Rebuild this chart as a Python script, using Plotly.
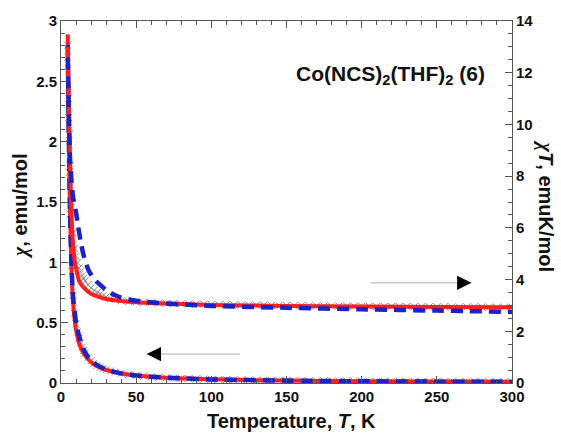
import plotly.graph_objects as go

# ---- measured data: chi*T (emu K/mol) and chi (emu/mol) vs temperature (K)
T_exp = [4.5, 5, 5.5, 6, 7, 8, 9, 10, 11, 12, 13, 14, 15, 16, 18, 20, 22, 24, 26, 28, 30, 33, 36,
         40, 45, 50, 55, 60, 65, 70, 75, 80, 85, 90, 95, 100, 105, 110, 115, 120, 125, 130, 135,
         140, 145, 150, 155, 160, 165, 170, 175, 180, 185, 190, 195, 200, 205, 210, 215, 220, 225,
         230, 235, 240, 245, 250, 255, 260, 265, 270, 275, 280, 285, 290, 295, 300]
chiT_exp = [12.6, 11.0, 9.6, 8.4, 6.8, 5.8, 5.2, 4.9, 4.65, 4.45, 4.3, 4.15, 4.05, 3.95, 3.8, 3.68,
            3.58, 3.5, 3.44, 3.38, 3.33, 3.28, 3.23,
            3.18, 3.15, 3.13, 3.11, 3.10, 3.09, 3.08, 3.07, 3.06, 3.06, 3.05, 3.04, 3.04, 3.03, 3.03,
            3.02, 3.02, 3.01, 3.01, 3.01, 3.00, 3.00, 3.00, 2.99, 2.99, 2.99, 2.98, 2.98, 2.98, 2.98,
            2.97, 2.97, 2.97, 2.97, 2.96, 2.96, 2.96, 2.96, 2.96, 2.95, 2.95, 2.95, 2.95, 2.95, 2.94,
            2.94, 2.94, 2.94, 2.94, 2.93, 2.93, 2.93, 2.93]
chi_exp = [2.80, 2.20, 1.745, 1.40, 0.971, 0.725, 0.578, 0.49, 0.423, 0.371, 0.331, 0.296, 0.27,
           0.247, 0.211, 0.184, 0.163, 0.146, 0.132, 0.121, 0.111, 0.0994, 0.0897,
           0.0795, 0.070, 0.0626, 0.0565, 0.0517, 0.0475, 0.044, 0.0409, 0.0383, 0.036, 0.0339,
           0.032, 0.0304, 0.0289, 0.0275, 0.0263, 0.0252, 0.0241, 0.0232, 0.0223, 0.0214, 0.0207,
           0.020, 0.0193, 0.0187, 0.0181, 0.0175, 0.0170, 0.0166, 0.0161, 0.0156, 0.0152, 0.0149,
           0.0145, 0.0141, 0.0138, 0.0135, 0.0132, 0.0129, 0.0126, 0.0123, 0.0120, 0.0118, 0.0116,
           0.0113, 0.0111, 0.0109, 0.0107, 0.0105, 0.0103, 0.0101, 0.0099, 0.0098]

# ---- model 1 (solid red)
T_fit1 = [4.5, 5, 6, 7, 8, 9, 10, 12, 15, 20, 25, 30, 40, 50, 70, 100, 150, 200, 250, 300]
chiT_fit1 = [13.0, 11.2, 8.6, 6.5, 5.4, 4.8, 4.45, 3.95, 3.7, 3.45, 3.33, 3.25, 3.17, 3.12, 3.07,
             3.02, 2.98, 2.96, 2.94, 2.93]
chi_fit1 = [2.889, 2.24, 1.433, 0.929, 0.675, 0.533, 0.445, 0.329, 0.247, 0.1725, 0.1332, 0.1083,
            0.0793, 0.0624, 0.0439, 0.0302, 0.0199, 0.0148, 0.0118, 0.0098]

# ---- model 2 (dashed blue)
T_fit2 = [4.5, 5, 6, 7, 8, 10, 11, 13, 15, 18, 21, 25, 30, 35, 40, 50, 60, 80, 100, 150, 200, 250, 300]
chiT_fit2 = [12.6, 11.0, 8.7, 7.8, 7.2, 6.6, 6.2, 5.5, 4.95, 4.4, 4.1, 3.85, 3.6, 3.42, 3.3, 3.18,
             3.12, 3.04, 2.98, 2.91, 2.85, 2.8, 2.75]
chi_fit2 = [2.8, 2.2, 1.42, 0.98, 0.72, 0.5, 0.44, 0.35, 0.28, 0.215, 0.175, 0.142, 0.113, 0.094,
            0.08, 0.0625, 0.0515, 0.038, 0.0298, 0.0194, 0.01425, 0.0112, 0.0092]

GRAY = "#8a8a8a"
RED = "#ff1f1f"
BLUE = "#1c22c4"
FONT = "Liberation Sans, Arial, sans-serif"

fig = go.Figure()

# measured points
mk = dict(symbol="x-thin", size=7, line=dict(width=1, color=GRAY), color=GRAY)
fig.add_trace(go.Scatter(x=T_exp, y=chiT_exp, mode="markers", marker=mk, yaxis="y2"))
fig.add_trace(go.Scatter(x=T_exp, y=chi_exp, mode="markers", marker=mk))

# fits
fig.add_trace(go.Scatter(x=T_fit1, y=chiT_fit1, mode="lines", yaxis="y2",
                         line=dict(color=RED, width=4, shape="spline", smoothing=0.6)))
fig.add_trace(go.Scatter(x=T_fit1, y=chi_fit1, mode="lines",
                         line=dict(color=RED, width=4, shape="spline", smoothing=0.6)))
fig.add_trace(go.Scatter(x=T_fit2, y=chiT_fit2, mode="lines", yaxis="y2",
                         line=dict(color=BLUE, width=4.5, dash="12px,7px", shape="spline", smoothing=0.6)))
fig.add_trace(go.Scatter(x=T_fit2, y=chi_fit2, mode="lines",
                         line=dict(color=BLUE, width=4.5, dash="12px,7px", shape="spline", smoothing=0.6)))

tickfont = dict(family=FONT, size=15, color="#111", weight="bold")
axis_common = dict(showline=True, linecolor="#555", linewidth=1, ticks="inside",
                   tickcolor="#555", ticklen=7, tickwidth=1, showgrid=False, zeroline=False,
                   tickfont=tickfont)

fig.update_layout(
    width=561, height=433,
    margin=dict(l=61, r=49, t=21, b=50),
    paper_bgcolor="white", plot_bgcolor="white",
    showlegend=False,
    xaxis=dict(range=[0, 300], tick0=0, dtick=50, mirror="ticks",
               minor=dict(dtick=10, ticklen=4, ticks="inside", tickcolor="#555"),
               **axis_common),
    yaxis=dict(range=[0, 3], tick0=0, dtick=0.5,
               minor=dict(dtick=0.1, ticklen=4, ticks="inside", tickcolor="#555"),
               **axis_common),
    yaxis2=dict(range=[0, 14], tick0=0, dtick=2, overlaying="y", side="right",
                minor=dict(dtick=0.5, ticklen=4, ticks="inside", tickcolor="#555"),
                **axis_common),
)

title_font = dict(family=FONT, size=20, color="#111", weight="bold")
chi_sym = "<span style='font-family:Liberation Serif'><i>χ</i></span>"

annotations = [
    dict(text="Co(NCS)<sub>2</sub>(THF)<sub>2</sub> (6)", xref="paper", yref="paper",
         x=0.945, y=0.85, xanchor="right", yanchor="middle", showarrow=False,
         font=dict(family=FONT, size=21, color="#111", weight="bold")),
    dict(text=chi_sym + ", emu/mol", xref="paper", yref="paper", x=-0.09, y=0.49,
         textangle=-90, xanchor="center", yanchor="middle", showarrow=False, font=title_font),
    dict(text=chi_sym + "<i>T</i>, emuK/mol", xref="paper", yref="paper", x=1.075, y=0.49,
         textangle=90, xanchor="center", yanchor="middle", showarrow=False, font=title_font),
    dict(text="Temperature, <i>T</i>, K", xref="paper", yref="paper", x=0.51, y=-0.105,
         xanchor="center", yanchor="middle", showarrow=False, font=title_font),
]

# direction arrows: thin gray shaft with a black head
arrows = [
    # points left toward the chi axis
    dict(tail=(119, 0.24), tip=(57, 0.24)),
    # points right toward the chi*T axis
    dict(tail=(206, 0.83), tip=(273, 0.83)),
]
for a in arrows:
    (x0, y0), (x1, y1) = a["tail"], a["tip"]
    fig.add_shape(type="line", x0=x0, y0=y0, x1=x1, y1=y1, xref="x", yref="y",
                  line=dict(color="#b0b0b0", width=1))
    direction = 1 if x1 > x0 else -1
    annotations.append(dict(x=x1, y=y1, xref="x", yref="y", ax=-direction * 12, ay=0,
                            showarrow=True, arrowhead=2, arrowsize=2.2, arrowwidth=1.3,
                            arrowcolor="#000", text=""))

fig.update_layout(annotations=annotations)

fig.write_html("out.html")
